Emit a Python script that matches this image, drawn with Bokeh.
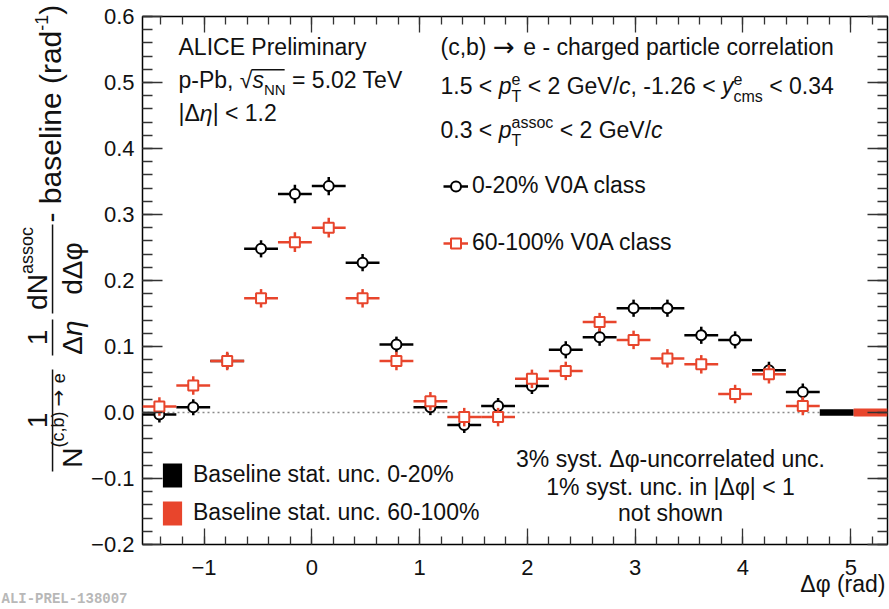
import numpy as np
from math import pi
from bokeh.plotting import figure
from bokeh.models import (ColumnDataSource, Label, BoxAnnotation, Legend, LegendItem,
                          LinearAxis, FixedTicker, CustomJSTickFormatter, GridBox)
from bokeh.embed import file_html
from bokeh.resources import INLINE

# ---------------- data ----------------
dphi = [-1.414, -1.100, -0.785, -0.471, -0.157, 0.157, 0.471, 0.785, 1.100, 1.414,
        1.728, 2.042, 2.356, 2.670, 2.985, 3.299, 3.613, 3.927, 4.241, 4.555]
half_bin = 0.157
yield_0_20 = [-0.003, 0.008, 0.078, 0.248, 0.331, 0.343, 0.227, 0.103, 0.008, -0.019,
              0.010, 0.040, 0.095, 0.114, 0.158, 0.158, 0.117, 0.110, 0.064, 0.031]
err_0_20 = [0.012, 0.012, 0.012, 0.013, 0.014, 0.014, 0.013, 0.012, 0.012, 0.012,
            0.012, 0.012, 0.013, 0.013, 0.013, 0.013, 0.013, 0.013, 0.013, 0.013]
yield_60_100 = [0.009, 0.041, 0.078, 0.173, 0.258, 0.280, 0.173, 0.078, 0.017, -0.007,
                -0.007, 0.051, 0.063, 0.137, 0.110, 0.082, 0.073, 0.028, 0.058, 0.010]
err_60_100 = [0.014, 0.014, 0.014, 0.014, 0.015, 0.015, 0.014, 0.014, 0.014, 0.014,
              0.014, 0.014, 0.014, 0.014, 0.014, 0.014, 0.014, 0.014, 0.014, 0.014]
baseline_unc = [0.005, 0.006]          # 0-20 %, 60-100 %
phi_min, phi_max = -pi / 2, 3 * pi / 2
x_ticks = [-1, 0, 1, 2, 3, 4, 5]
y_ticks = [-0.2, -0.1, 0.0, 0.1, 0.2, 0.3, 0.4, 0.5, 0.6]

FONT = "Liberation Sans"
AFONT = "DejaVu Sans"      # for the arrow
TXT = "#111111"
RED = "#e8452c"
W_, H_ = 889, 609
FL, FR, FT, FB = 142, 887, 16, 544
K = 0.35   # label anchor sits ~0.35 em above the baseline

p = figure(width=W_, height=H_, x_range=(phi_min, phi_max + 0.2 * pi), y_range=(-0.2, 0.6),
           output_backend="svg", toolbar_location=None,
           min_border_left=FL, min_border_right=W_ - FR, min_border_top=FT, min_border_bottom=H_ - FB)
p.grid.visible = False
p.background_fill_color = "white"
p.border_fill_color = "white"
p.outline_line_color = "black"
p.outline_line_width = 1.5

xminor = list(np.round(np.arange(-1.4, 5.31, 0.2), 3))
yminor = list(np.round(np.arange(-0.2, 0.601, 0.02), 3))

fmt_x = CustomJSTickFormatter(code="const s = Math.abs(tick).toFixed(0); return tick < -1e-9 ? '\u2212' + s : s;")
fmt_y = CustomJSTickFormatter(code="const s = Math.abs(tick).toFixed(1); return tick < -1e-9 ? '\u2212' + s : s;")
fmt_empty = CustomJSTickFormatter(code="return '';")

def style_axis(ax, major, minor, labels=True):
    ax.axis_line_color = None
    ax.major_tick_in = major
    ax.major_tick_out = 0
    ax.minor_tick_in = minor
    ax.minor_tick_out = 0
    ax.major_tick_line_color = "#333333"
    ax.minor_tick_line_color = "#333333"
    ax.major_tick_line_width = 1.3
    ax.minor_tick_line_width = 1.3
    if labels:
        ax.major_label_text_font = FONT
        ax.major_label_text_font_size = "22px"
        ax.major_label_text_color = TXT
    else:
        ax.major_label_text_font_size = "0px"
        ax.major_label_standoff = 0

xb = p.xaxis[0]
xb.ticker = FixedTicker(ticks=x_ticks, minor_ticks=xminor)
xb.formatter = fmt_x
style_axis(xb, 16, 8)
xb.major_label_standoff = 15

yl = p.yaxis[0]
yl.ticker = FixedTicker(ticks=y_ticks, minor_ticks=yminor)
yl.formatter = fmt_y
style_axis(yl, 20, 10)
yl.major_label_standoff = 8

xt = LinearAxis(ticker=FixedTicker(ticks=x_ticks, minor_ticks=xminor), formatter=fmt_empty)
style_axis(xt, 16, 8, labels=False)
p.add_layout(xt, "above")
yr = LinearAxis(ticker=FixedTicker(ticks=y_ticks, minor_ticks=yminor), formatter=fmt_empty)
style_axis(yr, 20, 10, labels=False)
p.add_layout(yr, "right")

# zero line
p.line(x=[phi_min, phi_max], y=[0, 0], line_color="#8a8a8a", line_width=1.5, line_dash="2 3")

# baseline stat. unc. boxes
q0 = p.quad(left=[phi_max], right=[phi_max + 0.1 * pi], bottom=[-baseline_unc[0]], top=[baseline_unc[0]],
            fill_color="black", line_color=None)
q1 = p.quad(left=[phi_max + 0.1 * pi], right=[phi_max + 0.2 * pi], bottom=[-baseline_unc[1]], top=[baseline_unc[1]],
            fill_color=RED, line_color=None)

def series(yv, ev, color, marker, size):
    x = np.array(dphi); y = np.array(yv); e = np.array(ev)
    src = ColumnDataSource(dict(x=x, y=y, x0=x - half_bin, x1=x + half_bin, lo=y - e, hi=y + e))
    hs = p.segment(x0="x0", x1="x1", y0="y", y1="y", source=src, line_color=color, line_width=2.5)
    p.segment(x0="x", x1="x", y0="lo", y1="hi", source=src, line_color=color, line_width=2.5)
    m = p.scatter(x="x", y="y", source=src, marker=marker, size=size, fill_color="white",
                  line_color=color, line_width=2)
    return m, hs

m0, h0 = series(yield_0_20, err_0_20, "black", "circle", 10)
m1, h1 = series(yield_60_100, err_60_100, RED, "square", 10)

leg1 = Legend(items=[LegendItem(label="0-20% V0A class", renderers=[h0, m0]),
                     LegendItem(label="60-100% V0A class", renderers=[h1, m1])],
              location=(301, FB - 256.5), glyph_width=25, glyph_height=28, label_height=28,
              spacing=29, label_standoff=4, padding=0, margin=0,
              background_fill_alpha=0, border_line_color=None,
              label_text_font=FONT, label_text_font_size="23px", label_text_color=TXT)
p.add_layout(leg1)
leg2 = Legend(items=[LegendItem(label="Baseline stat. unc. 0-20%", renderers=[q0]),
                     LegendItem(label="Baseline stat. unc. 60-100%", renderers=[q1])],
              location=(18, FB - 527.5), glyph_width=24, glyph_height=30, label_height=30,
              spacing=8, label_standoff=9, padding=0, margin=0,
              background_fill_alpha=0, border_line_color=None,
              label_text_font=FONT, label_text_font_size="23px", label_text_color=TXT)
p.add_layout(leg2)

# overlay figure covering the whole page, for the texts outside the frame
bg = figure(width=W_, height=H_, x_range=(0, W_), y_range=(0, H_), output_backend="svg",
            toolbar_location=None, x_axis_type=None, y_axis_type=None, min_border=0)
bg.grid.visible = False
bg.outline_line_color = None
bg.background_fill_alpha = 0
bg.border_fill_alpha = 0
for f in (p, bg):
    if "frame_align" in f.properties():
        f.frame_align = False

# ---------------- text helpers ----------------
W = {' ': 278, '!': 278, '%': 889, '(': 333, ')': 333, ',': 278, '-': 333, '.': 278, '/': 278,
     '<': 584, '=': 584, '>': 584, '|': 260,
     'A': 667, 'B': 667, 'C': 722, 'D': 722, 'E': 667, 'F': 611, 'G': 778, 'H': 722, 'I': 278,
     'L': 556, 'N': 722, 'P': 667, 'R': 722, 'T': 611, 'V': 667,
     'a': 556, 'b': 556, 'c': 500, 'd': 556, 'e': 556, 'f': 278, 'g': 556, 'h': 556, 'i': 222,
     'l': 222, 'm': 833, 'n': 556, 'o': 556, 'p': 556, 'r': 333, 's': 500, 't': 278, 'u': 556,
     'v': 500, 'w': 722, 'y': 500,
     'Δ': 668, 'η': 556, 'φ': 650, '√': 549, '→': 920, '−': 584}

def tw(s, size):
    return sum(W.get(c, 556) for c in s) * size / 1000.0

def put(text, cx, cy, size, style="normal", angle=0.0, align="left", font=FONT, color=TXT, on_bg=False):
    """cx, cy: canvas pixels; cy is the vertical centre of the capitals."""
    if on_bg:
        lab = Label(x=cx, y=H_ - cy, text=text, angle=angle)
        target = bg
    else:
        lab = Label(x=cx - FL, y=FB - cy, x_units="screen", y_units="screen", text=text, angle=angle)
        target = p
    lab.text_font = font
    lab.text_font_size = f"{size}px"
    lab.text_font_style = style
    lab.text_color = color
    lab.text_align = align
    lab.text_baseline = "alphabetic"
    target.add_layout(lab)

def norm(pt):
    return pt if len(pt) == 5 else (pt[0], pt[1], pt[2], pt[3], FONT)

def pw(pt):
    if isinstance(pt, list):
        return max(tw(q[0], q[1]) for q in pt)
    return tw(pt[0], pt[1])

def run(parts, start, base, vertical=False, center=False, on_bg=False):
    total = sum(pw(pt) for pt in parts)
    adv = -total / 2 if center else 0.0
    offs = []
    for pt in parts:
        for q in (pt if isinstance(pt, list) else [pt]):
            t, s, st, r, fnt = norm(q)
            lead = tw(" " * (len(t) - len(t.lstrip(" "))), s)
            txt = t.strip(" ")
            if vertical:
                put(txt, base - r - K * s, start - adv - lead, s, st, angle=pi / 2, font=fnt, on_bg=on_bg)
            else:
                put(txt, start + adv + lead, base - r - K * s, s, st, font=fnt, on_bg=on_bg)
        offs.append(adv)
        adv += pw(pt)
    return offs

def box(x0, x1, y0, y1, color=TXT):
    p.add_layout(BoxAnnotation(left=x0 - FL, right=x1 - FL, bottom=FB - y1, top=FB - y0,
                               left_units="screen", right_units="screen",
                               top_units="screen", bottom_units="screen",
                               fill_color=color, fill_alpha=1.0, line_color=None, level="overlay"))

def bg_bar(x0, x1, y0, y1):
    bg.quad(left=[x0], right=[x1], bottom=[H_ - y1], top=[H_ - y0], fill_color=TXT, line_color=None)

F = 23
SS = 16
# top-left block
run([("ALICE Preliminary", F, "normal", 0)], 178, 55)
offs = run([("p-Pb, √", F, "normal", 0), ("s", F, "italic", 0), ("NN", 15, "normal", -6),
            (" = 5.02 TeV", F, "normal", 0)], 178, 88)
box(178 + offs[1] - 1, 178 + offs[3] - 1, 68.5, 70)
run([("|Δ", F, "normal", 0), ("η", F, "italic", 0), ("| < 1.2", F, "normal", 0)], 178, 121)

# top-right block
run([("(c,b) ", F, "normal", 0), ("→", 26, "normal", -1, AFONT),
     (" e - charged particle correlation", F, "normal", 0)], 440, 55)
run([("1.5 < ", F, "normal", 0), ("p", F, "italic", 0),
     [("T", SS, "normal", -8), ("e", SS, "normal", 10)],
     (" < 2 GeV/", F, "normal", 0), ("c", F, "italic", 0), (", -1.26 < ", F, "normal", 0),
     ("y", F, "italic", 0), [("e", SS, "normal", 10), ("cms", SS, "normal", -8)],
     (" < 0.34", F, "normal", 0)], 440, 94)
run([("0.3 < ", F, "normal", 0), ("p", F, "italic", 0),
     [("assoc", SS, "normal", 10), ("T", SS, "normal", -8)],
     (" < 2 GeV/", F, "normal", 0), ("c", F, "italic", 0)], 440, 138)

# note
put("3% syst. Δφ-uncorrelated unc.", 670, 458, F, align="center")
put("1% syst. unc. in |Δφ| < 1", 670, 486, F, align="center")
put("not shown", 670, 512, F, align="center")

# x-axis title and watermark (outside the frame -> overlay figure)
put("Δφ (rad)", 885, 583, F, align="right", on_bg=True)
put("ALI-PREL-138007", 1, 598, 14, style="bold", font="Liberation Mono", color="#b8b8b8", on_bg=True)

# ---------------- y-axis title (rotated) ----------------
FY, FS = 28, 18
NB, DB = 47, 82          # numerator / denominator baselines (canvas x)
run([("1", FY, "normal", 0)], 420, NB, vertical=True, center=True, on_bg=True)
run([("N", FY, "normal", 0), ("(c,b) ", FS, "normal", 18), ("→", 20, "normal", 18, AFONT),
     (" e", FS, "normal", 18)], 420, DB, vertical=True, center=True, on_bg=True)
bg_bar(51.3, 52.8, 369, 471)
run([("1", FY, "normal", 0)], 337, NB, vertical=True, center=True, on_bg=True)
run([("Δ", FY, "normal", 0), ("η", FY, "italic", 0)], 337, DB, vertical=True, center=True, on_bg=True)
bg_bar(51.3, 52.8, 319, 355)
run([("dN", FY, "normal", 0), ("assoc", FS, "normal", 14)], 268, NB, vertical=True, center=True, on_bg=True)
run([("dΔφ", FY, "normal", 0)], 268, DB, vertical=True, center=True, on_bg=True)
bg_bar(51.3, 52.8, 224, 313)
run([("- baseline (rad", 30, "normal", 0), ("-1", FS, "normal", 13), (")", 30, "normal", 0)],
    222, 60, vertical=True, on_bg=True)

layout = GridBox(children=[(p, 0, 0), (bg, 0, 0)])
open("out.html", "w").write(file_html(layout, INLINE))
